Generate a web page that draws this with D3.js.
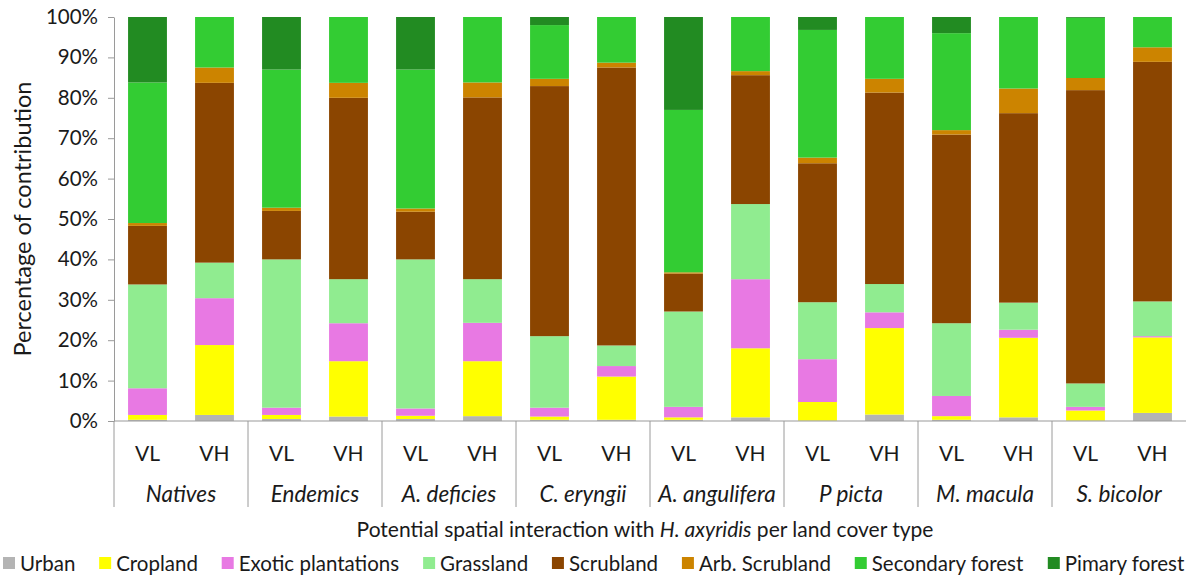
<!DOCTYPE html>
<html>
<head>
<meta charset="utf-8">
<script src="https://cdn.jsdelivr.net/npm/d3@7"></script>
<style>
  html, body { margin: 0; padding: 0; background: #fff; }
  svg text { font-family: Lato, "Open Sans", sans-serif; fill: #1a1a1a; }
</style>
</head>
<body>
<svg id="chart" width="1188" height="577"></svg>
<script>
// Species / group labels and the two interaction levels per group
const groups = ["Natives", "Endemics", "A. deficies", "C. eryngii", "A. angulifera", "P picta", "M. macula", "S. bicolor"];
const levels = ["VL", "VH"];

// Land cover classes, stacked bottom to top
const landCovers = ["Urban", "Cropland", "Exotic plantations", "Grassland", "Scrubland", "Arb. Scrubland", "Secondary forest", "Pimary forest"];
const coverColors = ["#b4b4b4", "#ffff00", "#e879e3", "#90ec90", "#8b4500", "#cc8400", "#33cc33", "#228b22"];

// Percentage of contribution per land cover (one array per class, 16 bars: group x level)
const urban      = [0.3, 1.5, 0.5, 1.1, 0.5, 1.2, 0.3, 0.3, 0.3, 0.9, 0.1, 1.6, 0.3, 0.9, 0.1, 2.0];
const cropland   = [1.2, 17.3, 1.0, 13.7, 0.8, 13.6, 0.8, 10.7, 0.6, 17.1, 4.6, 21.4, 0.9, 19.7, 2.5, 18.7];
const exotic     = [6.6, 11.6, 1.8, 9.4, 1.8, 9.5, 2.2, 2.6, 2.6, 17.1, 10.6, 3.9, 5.0, 2.0, 0.9, 0.3];
const grassland  = [25.7, 8.8, 36.7, 10.9, 36.9, 10.8, 17.7, 5.1, 23.6, 18.6, 14.1, 7.0, 18.0, 6.7, 5.8, 8.6];
const scrubland  = [14.5, 44.5, 12.0, 44.9, 11.8, 45.0, 61.9, 68.8, 9.4, 31.9, 34.4, 47.4, 46.7, 46.9, 72.6, 59.3];
const arbScrub   = [0.7, 3.8, 0.8, 3.7, 0.8, 3.7, 1.8, 1.2, 0.3, 1.0, 1.4, 3.4, 1.1, 6.1, 3.0, 3.6];
const secondary  = [34.8, 12.5, 34.2, 16.3, 34.4, 16.2, 13.3, 11.3, 40.2, 13.4, 31.6, 15.3, 24.0, 17.7, 14.9, 7.5];
const primary    = [16.2, 0.0, 13.0, 0.0, 13.0, 0.0, 2.0, 0.0, 23.0, 0.0, 3.2, 0.0, 4.0, 0.0, 0.2, 0.0];

// Y axis ticks
const yTicks = [0, 10, 20, 30, 40, 50, 60, 70, 80, 90, 100];

const seriesArrays = [urban, cropland, exotic, grassland, scrubland, arbScrub, secondary, primary];

// Build row records: one per bar
const bars = [];
groups.forEach((g, gi) => levels.forEach((l, li) => {
  const idx = gi * levels.length + li;
  const row = { id: g + "|" + l, group: g, level: l };
  landCovers.forEach((c, ci) => { row[c] = seriesArrays[ci][idx]; });
  bars.push(row);
}));

const svg = d3.select("#chart");
const margin = { left: 114, right: 2, top: 17, bottom: 156 };
const W = 1188, H = 577;
const x0 = margin.left, x1 = W - margin.right;
const yTop = margin.top, yBot = H - margin.bottom;

const x = d3.scaleBand().domain(bars.map(d => d.id)).range([x0, x1]).paddingInner(0.42).paddingOuter(0.21);
const y = d3.scaleLinear().domain([0, 100]).range([yBot, yTop]);
const color = d3.scaleOrdinal().domain(landCovers).range(coverColors);

const stacked = d3.stack().keys(landCovers)(bars);

// Bars
svg.append("g").selectAll("g").data(stacked).join("g")
  .attr("fill", s => color(s.key))
  .selectAll("rect").data(s => s).join("rect")
    .attr("x", d => x(d.data.id))
    .attr("width", x.bandwidth())
    .attr("y", d => y(d[1]))
    .attr("height", d => Math.max(0, y(d[0]) - y(d[1])));

const axisColor = "#9a9a9a";

// Y axis
const yAxis = d3.axisLeft(y).tickValues(yTicks).tickFormat(d => d + "%").tickSize(6).tickSizeOuter(0);
const gy = svg.append("g").attr("transform", `translate(${x0},0)`).call(yAxis);
gy.select(".domain").attr("stroke", axisColor);
gy.selectAll(".tick line").attr("stroke", axisColor);
gy.selectAll(".tick text").attr("x", -16).style("font-size", "20.5px").style("font-family", "Lato, sans-serif").attr("fill", "#1a1a1a");

// X baseline
svg.append("line").attr("x1", x0).attr("x2", x1).attr("y1", yBot).attr("y2", yBot)
  .attr("stroke", axisColor).attr("stroke-width", 1.2);

// Group separators under the axis
const groupWidth = (x1 - x0) / groups.length;
const sepBottom = 507;
groups.forEach((g, gi) => {
  svg.append("line")
    .attr("x1", x0 + gi * groupWidth).attr("x2", x0 + gi * groupWidth)
    .attr("y1", yBot).attr("y2", sepBottom)
    .attr("stroke", axisColor).attr("stroke-width", 1);
});

// Level labels
svg.append("g").selectAll("text").data(bars).join("text")
  .attr("x", d => x(d.id) + x.bandwidth() / 2)
  .attr("y", 452)
  .attr("text-anchor", "middle").attr("dominant-baseline", "central")
  .style("font-size", "21px")
  .text(d => d.level);

// Group labels (italic)
svg.append("g").selectAll("text").data(groups).join("text")
  .attr("x", (d, i) => x0 + (i + 0.5) * groupWidth)
  .attr("y", 493)
  .attr("text-anchor", "middle").attr("dominant-baseline", "central")
  .style("font-size", "22.5px").style("font-style", "italic")
  .text(d => d);

// X axis title
const xt = svg.append("text")
  .attr("x", (x0 + x1) / 2 - 5).attr("y", 528)
  .attr("text-anchor", "middle").attr("dominant-baseline", "central")
  .style("font-size", "21px");
xt.append("tspan").text("Potential spatial interaction with ");
xt.append("tspan").style("font-style", "italic").text("H. axyridis");
xt.append("tspan").text(" per land cover type");

// Y axis title
svg.append("text")
  .attr("transform", `translate(22,${(yTop + yBot) / 2}) rotate(-90)`)
  .attr("text-anchor", "middle").attr("dominant-baseline", "central")
  .style("font-size", "23.5px")
  .text("Percentage of contribution");

// Legend
const legend = svg.append("g");
const items = legend.selectAll("g").data(landCovers).join("g");
items.append("rect").attr("width", 12).attr("height", 12).attr("y", -6).attr("fill", d => color(d));
items.append("text").attr("x", 17).attr("dominant-baseline", "central")
  .style("font-size", "20.5px").text(d => d);
const widths = [];
items.each(function () { widths.push(this.getBBox().width); });
// spread items so the legend spans the full width
const left = 3, right = 1185;
const sumW = d3.sum(widths);
const spacing = (right - left - sumW) / (landCovers.length - 1);
let px = left;
items.each(function (d, i) {
  d3.select(this).attr("transform", `translate(${px},563)`);
  px += widths[i] + spacing;
});
</script>
</body>
</html>
